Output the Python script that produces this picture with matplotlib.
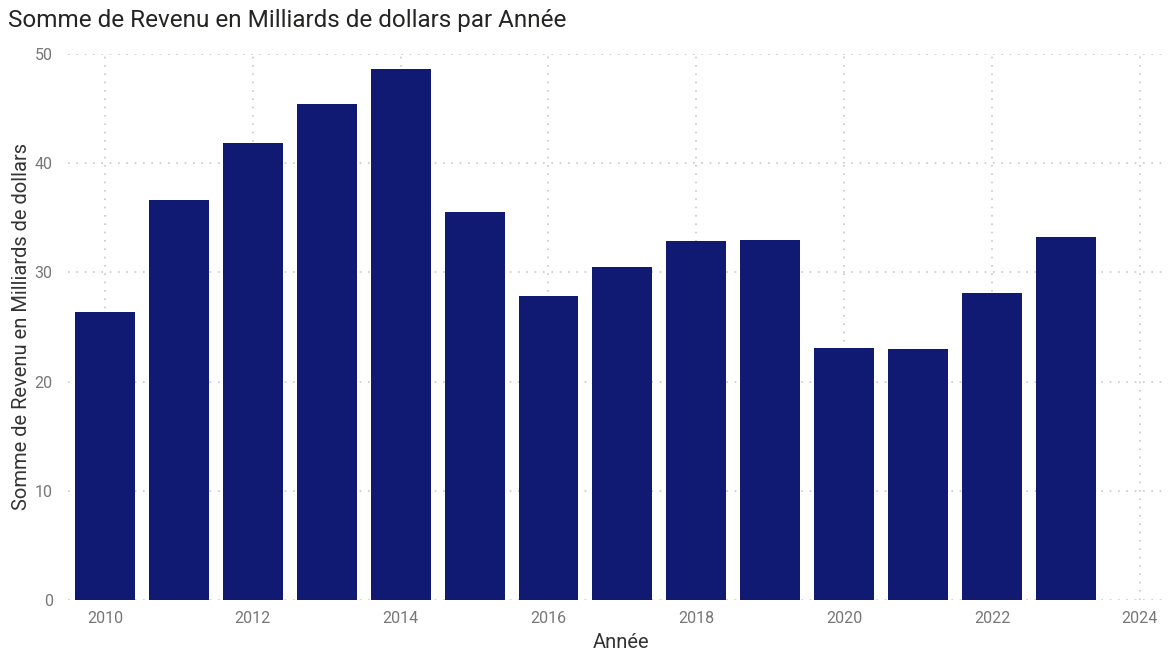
import matplotlib
matplotlib.use("Agg")
import matplotlib.pyplot as plt

# Revenue per year, in billions of dollars
annees = [2010, 2011, 2012, 2013, 2014, 2015, 2016, 2017, 2018, 2019, 2020, 2021, 2022, 2023]
revenu = [26.35, 36.6, 41.85, 45.4, 48.6, 35.5, 27.8, 30.5, 32.85, 33.0, 23.1, 23.0, 28.1, 33.2]
x_ticks = [2010, 2012, 2014, 2016, 2018, 2020, 2022, 2024]
y_ticks = [0, 10, 20, 30, 40, 50]

plt.rcParams['font.family'] = ['Roboto', 'DejaVu Sans']

W, H = 1169, 653
fig = plt.figure(figsize=(W / 100, H / 100), dpi=100)
ax = fig.add_axes([68 / W, (H - 600) / H, (1165 - 68) / W, (600 - 54) / H])

ax.bar(annees, revenu, width=0.81, color='#111a73', zorder=3)

ax.set_xlim(2009.5, 2024.34)
ax.set_ylim(0, 50)
ax.set_xticks(x_ticks)
ax.set_yticks(y_ticks)

grid_kw = dict(color='#c8c8c8', linestyle=(0, (1, 4)), linewidth=1.2, zorder=0)
ax.grid(True, axis='both', **grid_kw)

for s in ax.spines.values():
    s.set_visible(False)
ax.tick_params(axis='both', length=0, labelsize=11.5, labelcolor='#777777')
ax.tick_params(axis='x', pad=8)
ax.tick_params(axis='y', pad=11)

ax.set_xlabel('Année', fontsize=14.5, color='#333333', va='center')
ax.xaxis.set_label_coords((621 - 68) / (1165 - 68), -(642 - 600) / (600 - 54))
ax.set_ylabel('Somme de Revenu en Milliards de dollars', fontsize=14.5, color='#333333', va='center')
ax.yaxis.set_label_coords(-(68 - 22) / (1165 - 68), (600 - 327) / (600 - 54))

fig.text(8 / W, 1 - 21 / H, 'Somme de Revenu en Milliards de dollars par Année',
         fontsize=17.5, color='#252423', ha='left', va='center')

fig.savefig('out.png', dpi=100)
